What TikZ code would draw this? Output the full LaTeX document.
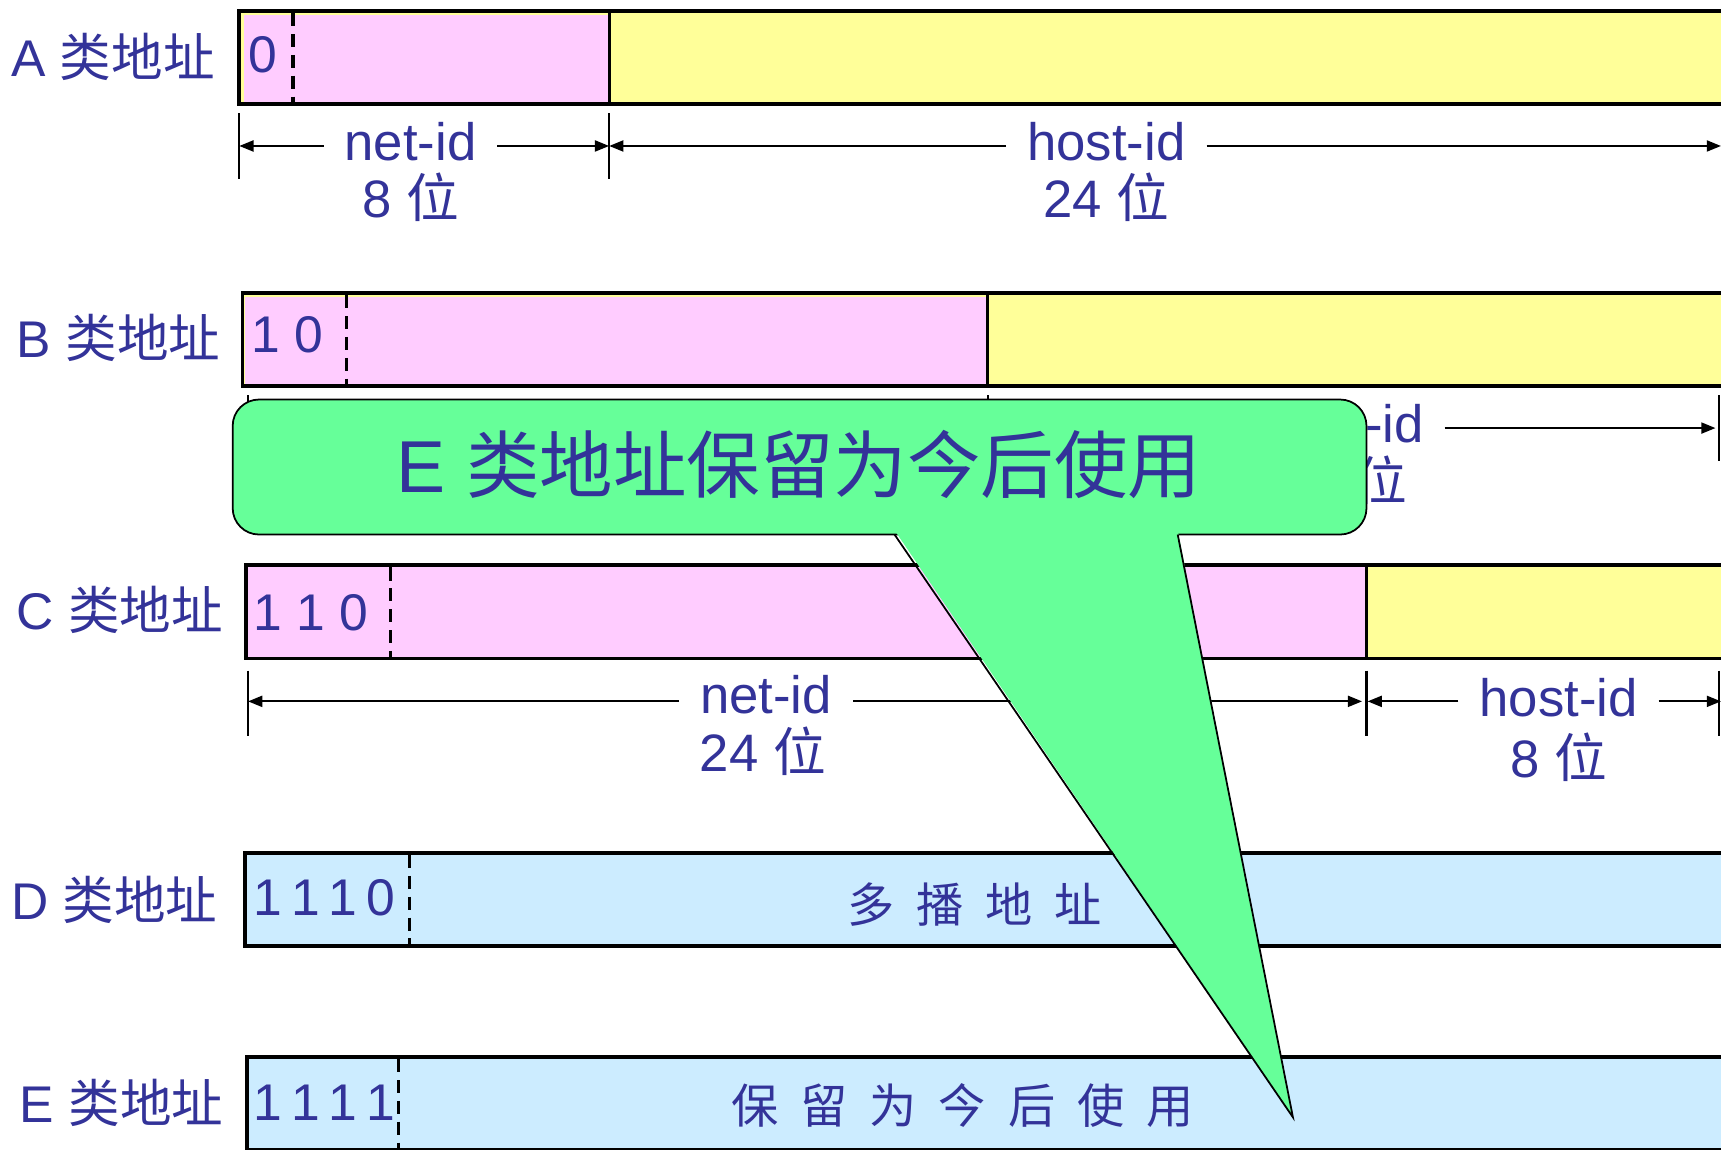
\documentclass[tikz,border=0pt]{standalone}
\usepackage{fontspec}
\setmainfont{Liberation Sans}
\newfontfamily\cjk{Noto Sans CJK SC}
\usetikzlibrary{arrows.meta,calc}
\definecolor{txt}{RGB}{51,51,153}
\definecolor{pinkc}{RGB}{255,204,255}
\definecolor{yelc}{RGB}{255,255,153}
\definecolor{bluec}{RGB}{204,236,255}
\definecolor{greenc}{RGB}{102,255,153}
\tikzset{
  boxline/.style={line width=3.5pt, draw=black},
  divider/.style={line width=2.5pt},
  dashline/.style={line width=3pt, dash pattern=on 12pt off 7pt},
  lab/.style={text=txt, font=\fontsize{47}{50}\selectfont, inner sep=0pt, anchor=west},
  bits/.style={text=txt, font=\fontsize{47}{50}\selectfont, inner sep=0pt, anchor=west},
  dimlab/.style={text=txt, font=\fontsize{48}{50}\selectfont, inner xsep=19pt, inner ysep=0pt, anchor=base},
  bitlab/.style={text=txt, font=\fontsize{48}{50}\selectfont, inner sep=0pt, anchor=base},
  spaced/.style={text=txt, font=\fontsize{43}{46}\selectfont\cjk, inner sep=0pt},
  dimarr/.style={line width=2pt, -{Triangle[length=13pt,width=10pt]}},
  tickline/.style={line width=2pt},
  callout/.style={fill=greenc, draw=black, line width=1.6pt},
  calltext/.style={text=txt, font=\fontsize{67}{70}\selectfont, inner sep=0pt}
}
\newcommand{\gp}{\hspace{20pt}}
\begin{document}
\begin{tikzpicture}[x=1pt,y=-1pt]
\path[clip] (0,0) rectangle (1568,1047);
\fill[white] (0,0) rectangle (1568,1047);

% ---------- Row A ----------
\fill[yelc] (218,10) rectangle (1600,95);
\fill[pinkc] (222,14) rectangle (555,95);
\draw[divider] (555,10) -- (555,95);
\draw[dashline] (267,12) -- (267,95);
\draw[boxline] (218,10) rectangle (1600,95);
\node[bits] (bitsA) at (226,50) {0};
\node[lab] (labA) at (10,52) {A {\cjk 类地址}};

\coordinate (tA0) at (218,133);
\coordinate (tA1) at (555,133);
\coordinate (tA2) at (1568,133);
\foreach \t in {tA0,tA1} \draw[tickline] ($(\t)+(0,-30)$) -- ($(\t)+(0,30)$);
\node[dimlab] (netA) at (374,146) {net-id};
\node[bitlab] (netAb) at (374,198) {8 {\cjk 位}};
\node[dimlab] (hostA) at (1008,146) {host-id};
\node[bitlab] (hostAb) at (1008,198) {24 {\cjk 位}};
\draw[dimarr] (netA.west |- tA0) -- (tA0);
\draw[dimarr] (netA.east |- tA0) -- (tA1);
\draw[dimarr] (hostA.west |- tA1) -- (tA1);
\draw[dimarr] (hostA.east |- tA2) -- (tA2);

% ---------- Row B ----------
\fill[yelc] (221,267) rectangle (1600,352);
\fill[pinkc] (223,271) rectangle (900,352);
\draw[divider] (900,267) -- (900,352);
\draw[dashline] (316,269) -- (316,352);
\draw[boxline] (221,267) rectangle (1600,352);
\node[bits] (bitsB) at (229,305) {1 0};
\node[lab] (labB) at (15,308) {B {\cjk 类地址}};

\coordinate (tB0) at (226,390);
\coordinate (tB1) at (900,390);
\coordinate (tB2) at (1566,390);
\coordinate (netBmid) at (563,390);
\foreach \t in {tB0,tB1,tB2} \draw[tickline] ($(\t)+(0,-30)$) -- ($(\t)+(0,30)$);
\node[dimlab] (hostB) at (1225,403) {host-id};
\node[bitlab] (hostBb) at (1225,456) {16 {\cjk 位}};
\draw[dimarr] (netBmid) -- (tB0);
\draw[dimarr] (netBmid) -- (tB1);
\draw[dimarr] (hostB.west |- tB1) -- (tB1);
\draw[dimarr] (hostB.east |- tB2) -- ($(tB2)+(-3,0)$);

% ---------- Row C ----------
\fill[yelc] (224,515) rectangle (1600,600);
\fill[pinkc] (224,515) rectangle (1245,600);
\draw[divider] (1245,515) -- (1245,600);
\draw[dashline] (356,517) -- (356,600);
\draw[boxline] (224,515) rectangle (1600,600);
\node[bits] (bitsC) at (231,558) {1 1 0};
\node[lab] (labC) at (15,556) {C {\cjk 类地址}};

\coordinate (tC0) at (226,639);
\coordinate (tC1) at (1245,639);
\coordinate (tC2) at (1568,639);
\foreach \t in {tC0,tC1} \draw[tickline] ($(\t)+(0,-28)$) -- ($(\t)+(0,32)$);
\draw[tickline] (1566,611) -- (1566,671);
\node[dimlab] (netC) at (698,650) {net-id};
\node[bitlab] (netCb) at (695,703) {24 {\cjk 位}};
\node[dimlab] (hostC) at (1420,653) {host-id};
\node[bitlab] (hostCb) at (1420,708) {8 {\cjk 位}};
\draw[dimarr] (netC.west |- tC0) -- (tC0);
\draw[dimarr] (netC.east |- tC0) -- ($(tC1)+(-4,0)$);
\draw[dimarr] (hostC.west |- tC1) -- ($(tC1)+(1,0)$);
\draw[dimarr] (hostC.east |- tC2) -- (tC2);

% ---------- Row D ----------
\fill[bluec] (223,777) rectangle (1600,862);
\draw[dashline] (373,779) -- (373,862);
\draw[boxline] (223,777) rectangle (1600,862);
\node[bits] (bitsD) at (231,818) {1\kern8pt 1\kern8pt 1\kern8pt 0};
\node[lab] (labD) at (10,820) {D {\cjk 类地址}};
\node[spaced] (useD) at (888,824) {多\gp 播\gp 地\gp 址};

% ---------- Row E ----------
\fill[bluec] (225,963) rectangle (1600,1048);
\draw[dashline] (363,965) -- (363,1048);
\draw[boxline] (225,963) rectangle (1600,1048);
\node[bits] (bitsE) at (231,1005) {1\kern8pt 1\kern8pt 1\kern8pt 1};
\node[lab] (labE) at (18,1005) {E {\cjk 类地址}};
\node[spaced] (useE) at (877,1007) {保\gp 留\gp 为\gp 今\gp 后\gp 使\gp 用};

% ---------- Callout ----------
\draw[callout, rounded corners=24pt] (212,364) rectangle (1245,487);
\fill[greenc] (815,483) -- (1178,1018) -- (1073,483) -- cycle;
\draw[line width=1.6pt] (815,487) -- (1178,1018) -- (1073,487);
\node[calltext] (callE) at (728,423) {E {\cjk 类地址保留为今后使用}};
\end{tikzpicture}
\end{document}
